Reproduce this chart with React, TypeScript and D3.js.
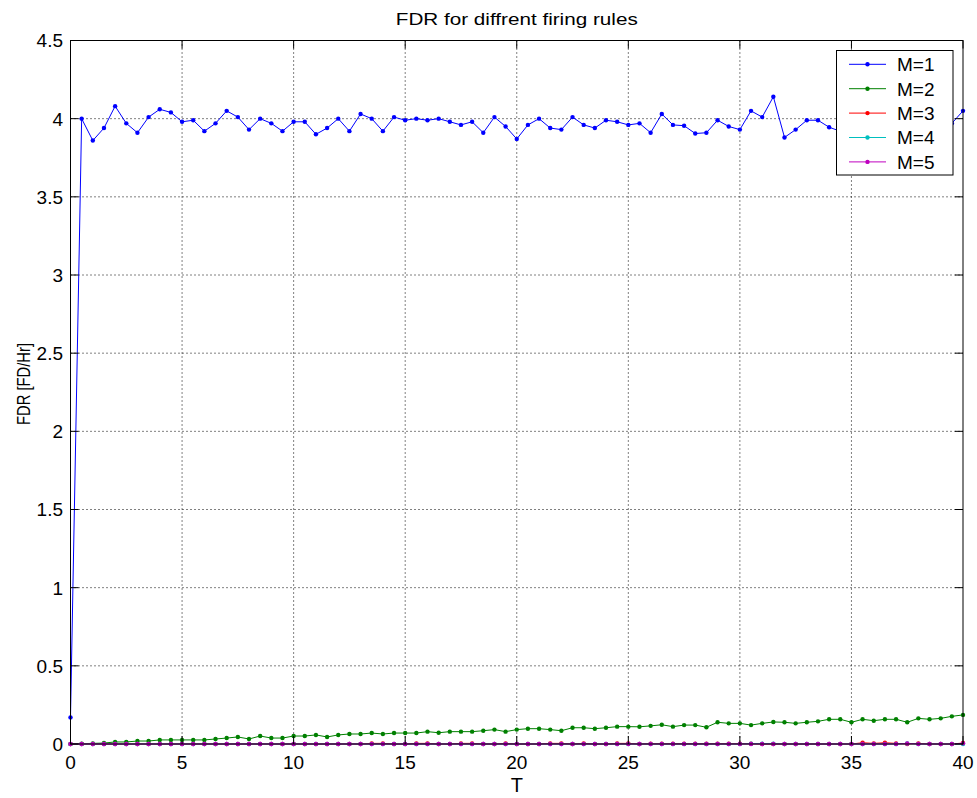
import React from "react";
import * as d3 from "d3";

const T: number[] = d3.range(0, 40.0001, 0.5);

const M1: number[] = [
  0.17, 4.0, 3.86, 3.94, 4.08, 3.97, 3.91, 4.01, 4.06, 4.04,
  3.98, 3.99, 3.92, 3.97, 4.05, 4.01, 3.93, 4.0, 3.97, 3.92,
  3.98, 3.98, 3.9, 3.94, 4.0, 3.92, 4.03, 4.0, 3.92, 4.01,
  3.99, 4.0, 3.99, 4.0, 3.98, 3.96, 3.98, 3.91, 4.01, 3.95,
  3.87, 3.96, 4.0, 3.94, 3.93, 4.01, 3.96, 3.94, 3.99, 3.98,
  3.96, 3.97, 3.91, 4.03, 3.96, 3.955, 3.905, 3.91, 3.99, 3.95,
  3.93, 4.05, 4.01, 4.14, 3.88, 3.93, 3.99, 3.99, 3.945, 3.92,
  3.96, 3.98, 3.94, 4.0, 3.97, 3.95, 3.99, 3.96, 3.93, 3.97,
  4.05,
];

const M2: number[] = [
  0, 0.002, 0.004, 0.006, 0.013, 0.013, 0.019, 0.019, 0.026, 0.026,
  0.026, 0.026, 0.026, 0.032, 0.038, 0.045, 0.032, 0.051, 0.038, 0.038,
  0.051, 0.051, 0.058, 0.045, 0.058, 0.064, 0.064, 0.07, 0.064, 0.07,
  0.07, 0.07, 0.079, 0.072, 0.079, 0.079, 0.079, 0.085, 0.092, 0.079,
  0.092, 0.098, 0.098, 0.092, 0.085, 0.104, 0.104, 0.098, 0.104, 0.111,
  0.111, 0.11, 0.116, 0.123, 0.111, 0.121, 0.121, 0.107, 0.139, 0.132,
  0.132, 0.121, 0.132, 0.141, 0.139, 0.132, 0.139, 0.145, 0.158, 0.158,
  0.139, 0.158, 0.149, 0.158, 0.158, 0.139, 0.164, 0.158, 0.164, 0.177,
  0.186,
];

const M3: number[] = [
  0, 0, 0, 0, 0, 0, 0, 0, 0, 0,
  0, 0, 0, 0, 0, 0, 0, 0, 0, 0,
  0, 0, 0, 0, 0, 0, 0, 0.004, 0.004, 0,
  0, 0.004, 0.004, 0, 0, 0.004, 0.004, 0, 0, 0.004,
  0, 0, 0, 0.004, 0.004, 0, 0.004, 0, 0, 0.004,
  0.004, 0, 0.002, 0.002, 0.002, 0.002, 0.002, 0.002, 0.002, 0.002,
  0.002, 0.002, 0, 0, 0, 0, 0, 0, 0, 0,
  0, 0.008, 0.004, 0.008, 0.004, 0, 0.004, 0, 0, 0,
  0.006,
];

const M4: number[] = [
  0, 0, 0, 0, 0, 0, 0, 0, 0, 0,
  0, 0, 0, 0, 0, 0, 0, 0, 0, 0,
  0, 0, 0, 0, 0, 0, 0, 0, 0, 0,
  0, 0, 0, 0, 0, 0, 0, 0, 0, 0,
  0, 0, 0, 0, 0, 0, 0, 0, 0, 0,
  0, 0, 0, 0, 0, 0, 0, 0, 0, 0,
  0, 0.002, 0.002, 0.002, 0, 0, 0, 0, 0, 0,
  0, 0, 0, 0, 0, 0.003, 0, 0, 0, 0,
  0,
];

const M5: number[] = [
  0, 0, 0, 0, 0, 0, 0, 0, 0, 0,
  0, 0, 0, 0, 0, 0, 0, 0, 0, 0,
  0, 0, 0, 0, 0, 0, 0, 0, 0, 0,
  0, 0, 0, 0, 0, 0, 0, 0, 0, 0,
  0, 0, 0, 0, 0, 0, 0, 0, 0, 0,
  0, 0, 0, 0, 0, 0, 0, 0, 0, 0,
  0, 0, 0, 0, 0, 0, 0, 0, 0, 0,
  0, 0, 0, 0, 0, 0.003, 0, 0, 0, 0,
  0.004,
];

const seriesNames: string[] = ["M=1", "M=2", "M=3", "M=4", "M=5"];
const seriesValues: number[][] = [M1, M2, M3, M4, M5];
const seriesColors: string[] = ["#0000ff", "#008000", "#ff0000", "#00bfbf", "#bf00bf"];

const xTicks: number[] = [0, 5, 10, 15, 20, 25, 30, 35, 40];
const yTicks: number[] = [0, 0.5, 1, 1.5, 2, 2.5, 3, 3.5, 4, 4.5];

const TITLE = "FDR for diffrent firing rules";
const XLABEL = "T";
const YLABEL = "FDR [FD/Hr]";

const W = 977;
const H = 798;
const L = 70.5;
const R = 963;
const TOP = 40.5;
const BOT = 744;
const FONT = "'Liberation Sans', Arial, Helvetica, sans-serif";

export default function App() {
  const x = d3.scaleLinear().domain([0, 40]).range([L, R]);
  const y = d3.scaleLinear().domain([0, 4.5]).range([BOT, TOP]);
  const line = d3
    .line<number>()
    .x((_, i) => x(T[i]))
    .y((d) => y(d));
  const tickLen = 8;

  return (
    <svg
      width={W}
      height={H}
      style={{ position: "absolute", left: 0, top: 0, background: "#fff" }}
      fontFamily={FONT}
    >
      <rect x={0} y={0} width={W} height={H} fill="#fff" />
      {/* grid */}
      {xTicks.slice(1, -1).map((t) => (
        <line key={"gx" + t} x1={x(t)} x2={x(t)} y1={TOP} y2={BOT} stroke="#000" strokeWidth={1} strokeDasharray="1,3" />
      ))}
      {yTicks.slice(1, -1).map((t) => (
        <line key={"gy" + t} x1={L} x2={R} y1={y(t)} y2={y(t)} stroke="#000" strokeWidth={1} strokeDasharray="1,3" />
      ))}
      {/* series */}
      {seriesValues.map((vals, si) => (
        <g key={"s" + si}>
          <path d={line(vals) || ""} fill="none" stroke={seriesColors[si]} strokeWidth={1} />
          {vals.map((v, i) => (
            <circle key={i} cx={x(T[i])} cy={y(v)} r={2.2} fill={seriesColors[si]} />
          ))}
        </g>
      ))}
      {/* box */}
      <rect x={L} y={TOP} width={R - L} height={BOT - TOP} fill="none" stroke="#000" strokeWidth={1} />
      {/* ticks */}
      {xTicks.map((t) => (
        <g key={"tx" + t}>
          <line x1={x(t)} x2={x(t)} y1={BOT} y2={BOT - tickLen} stroke="#000" />
          <line x1={x(t)} x2={x(t)} y1={TOP} y2={TOP + tickLen} stroke="#000" />
          <text x={x(t)} y={769} textAnchor="middle" fontSize={19} fill="#000">
            {t}
          </text>
        </g>
      ))}
      {yTicks.map((t) => (
        <g key={"ty" + t}>
          <line x1={L} x2={L + tickLen} y1={y(t)} y2={y(t)} stroke="#000" />
          <line x1={R} x2={R - tickLen} y1={y(t)} y2={y(t)} stroke="#000" />
          <text x={63} y={y(t)} dy="0.36em" textAnchor="end" fontSize={19} fill="#000">
            {t}
          </text>
        </g>
      ))}
      {/* labels */}
      <text x={(L + R) / 2} y={25} textAnchor="middle" fontSize={17} textLength={242} lengthAdjust="spacingAndGlyphs" fill="#000">
        {TITLE}
      </text>
      <text x={(L + R) / 2} y={792} textAnchor="middle" fontSize={20} fill="#000">
        {XLABEL}
      </text>
      <text
        transform={`translate(30,${384}) rotate(-90)`}
        textAnchor="middle"
        fontSize={19}
        textLength={82}
        lengthAdjust="spacingAndGlyphs"
        fill="#000"
      >
        {YLABEL}
      </text>
      {/* legend */}
      <g>
        <rect x={836.5} y={50.5} width={116.5} height={124.5} fill="#fff" stroke="#000" strokeWidth={1} />
        {seriesNames.map((n, i) => {
          const cy = 64.3 + i * 24.4;
          return (
            <g key={"lg" + i}>
              <line x1={849} x2={886} y1={cy} y2={cy} stroke={seriesColors[i]} strokeWidth={1} />
              <circle cx={867.5} cy={cy} r={2.2} fill={seriesColors[i]} />
              <text x={897} y={cy} dy="0.36em" fontSize={19} fill="#000">
                {n}
              </text>
            </g>
          );
        })}
      </g>
    </svg>
  );
}
